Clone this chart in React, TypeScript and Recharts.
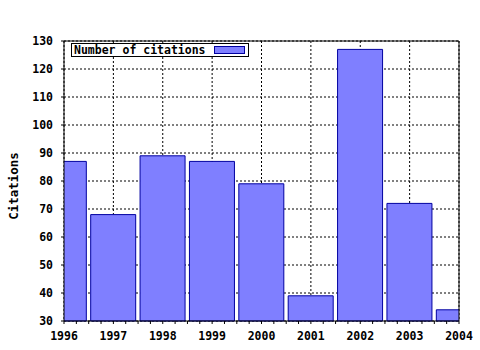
import { Bar, BarChart, CartesianGrid, XAxis, YAxis } from 'recharts';

const years = [1996, 1997, 1998, 1999, 2000, 2001, 2002, 2003, 2004];
const citations = [87, 68, 89, 87, 79, 39, 127, 72, 34];
const yTicks = [30, 40, 50, 60, 70, 80, 90, 100, 110, 120, 130];
// quarter-year minor ticks along the x axes
const xTicks = years.slice(0, -1).flatMap((y) => [y, y + 0.25, y + 0.5, y + 0.75]).concat([2004]);

const data = years.map((year, i) => ({ year, citations: citations[i] }));

const FONT = '"DejaVu Sans Mono", "Liberation Mono", monospace';

// vertical grid at each year, mapped through the axis scale when recharts exposes it
function yearGrid({ xAxis, offset }: any): number[] {
  const s = xAxis?.scale;
  if (typeof s === 'function') return years.map((y) => s(y));
  if (s && typeof s.map === 'function') return years.map((y) => s.map(y));
  const [d0, d1] = [years[0], years[years.length - 1]];
  return years.map((y) => offset.left + ((y - d0) / (d1 - d0)) * offset.width);
}

function YearTick(props: any) {
  const { x, y, payload } = props;
  if (!Number.isInteger(payload.value)) return null;
  return (
    <text x={x} y={y} dy="0.71em" textAnchor="middle" fontFamily={FONT} fontSize={11.5} fontWeight="bold" fill="#000">
      {payload.value}
    </text>
  );
}

function YLabel(props: any) {
  const { viewBox } = props;
  const cx = viewBox.x + 13;
  const cy = viewBox.y + viewBox.height / 2 + 5;
  return (
    <text
      x={cx}
      y={cy}
      transform={`rotate(-90, ${cx}, ${cy})`}
      textAnchor="middle"
      dominantBaseline="central"
      fontFamily={FONT}
      fontSize={12.5}
      fontWeight="bold"
      fill="#000"
    >
      Citations
    </text>
  );
}

function LegendBox() {
  return (
    <div
      style={{
        position: 'absolute',
        left: 71,
        top: 43,
        boxSizing: 'border-box',
        border: '1px solid #000',
        background: '#fff',
        width: 178,
        height: 14,
        display: 'flex',
        alignItems: 'center',
        paddingLeft: 2,
        fontFamily: FONT,
        fontSize: 11.5,
        fontWeight: 'bold',
        lineHeight: '12px',
        color: '#000',
      }}
    >
      <span>Number of citations</span>
      <span
        style={{
          display: 'inline-block',
          width: 29,
          height: 6,
          marginLeft: 8,
          background: '#7f7fff',
          border: '1px solid #0000a0',
        }}
      />
    </div>
  );
}

export default function App() {
  return (
    <div style={{ position: 'absolute', left: 0, top: 0, width: 480, height: 350, background: '#fff' }}>
      <BarChart
        width={480}
        height={350}
        data={data}
        barSize={45}
        margin={{ top: 39, right: 20, bottom: 0, left: 0 }}
      >
        <CartesianGrid stroke="#000" strokeDasharray="2 2" verticalCoordinatesGenerator={yearGrid} />
        <XAxis
          dataKey="year"
          type="number"
          domain={[1996, 2004]}
          ticks={xTicks}
          allowDataOverflow
          height={29}
          interval={0}
          stroke="#000"
          tickSize={3}
          tickMargin={8}
          tick={<YearTick />}
        />
        <XAxis
          xAxisId="top"
          orientation="top"
          type="number"
          domain={[1996, 2004]}
          ticks={years}
          height={1}
          interval={0}
          stroke="#000"
          tickSize={4}
          tick={false}
        />
        <XAxis
          xAxisId="topMinor"
          orientation="top"
          type="number"
          domain={[1996, 2004]}
          ticks={xTicks}
          height={1}
          interval={0}
          stroke="#000"
          axisLine={false}
          tickSize={2}
          tick={false}
        />
        <YAxis
          type="number"
          domain={[30, 130]}
          ticks={yTicks}
          interval={0}
          width={64}
          stroke="#000"
          tickSize={3}
          tickMargin={8}
          tick={{ fontFamily: FONT, fontSize: 11.5, fontWeight: 'bold', fill: '#000' }}
          label={{ content: <YLabel /> }}
        />
        <YAxis
          yAxisId="right"
          orientation="right"
          type="number"
          domain={[30, 130]}
          width={1}
          stroke="#000"
          tick={false}
          tickLine={false}
        />
        <Bar
          dataKey="citations"
          name="Number of citations"
          fill="#7f7fff"
          stroke="#0000a0"
          strokeWidth={1}
          isAnimationActive={false}
        />
      </BarChart>
      <LegendBox />
    </div>
  );
}
